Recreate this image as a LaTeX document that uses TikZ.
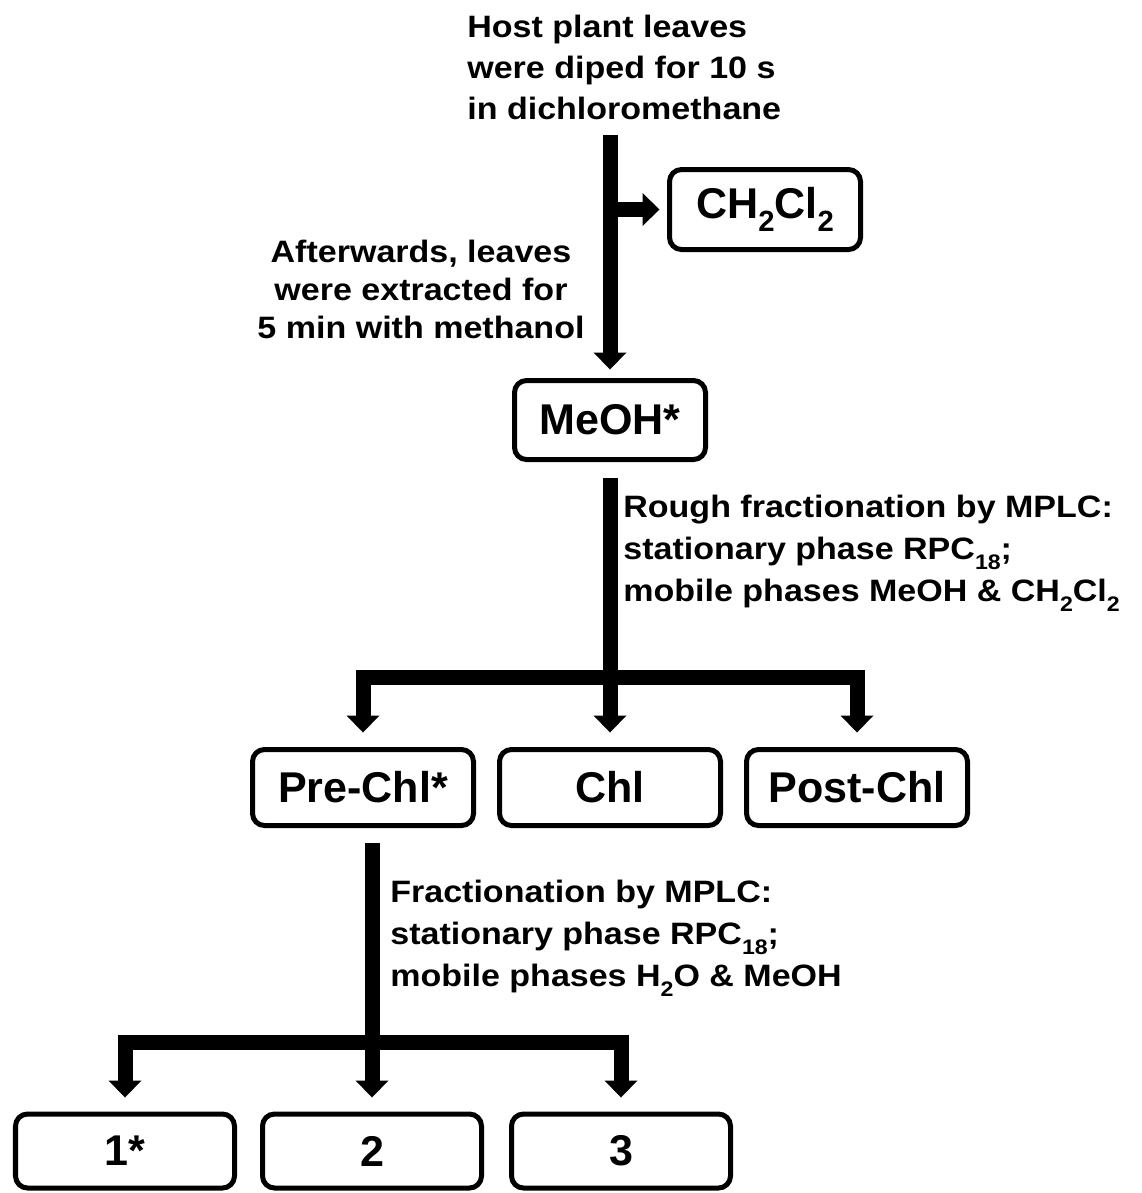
\documentclass[tikz,border=0pt]{standalone}
\usepackage{fontspec}
\setmainfont{Liberation Sans}
\newfontfamily\notefont[FakeStretch=1.1]{Liberation Sans}
\usepackage{tikz}
\usetikzlibrary{arrows.meta, positioning}
\newcommand{\lowsub}[1]{\raisebox{-0.32em}{\scalebox{0.68}{#1}}}
\tikzstyle{fraction} = [rectangle, rounded corners=0.24cm, draw=black, line width=0.1cm, minimum width=4.42cm, minimum height=1.52cm, text centered, inner sep=0pt, font=\fontsize{24.5pt}{24.5pt}\selectfont\bfseries]
\tikzstyle{note} = [inner sep=0pt, font=\notefont\fontsize{17.6pt}{23.9pt}\selectfont\bfseries]
\tikzstyle{arrow} = [line width=0.3cm, ->, >={Triangle[width=0.66cm, length=0.34cm, line width=0pt 0 0]}]

\begin{document}
\begin{tikzpicture}
\useasboundingbox (0,0) rectangle (22.82,-23.86);

% Extraction des feuilles
\coordinate (start) at (12.2,-2.7);
\node (leaves) [note, anchor=north west, align=left, font=\notefont\fontsize{17.6pt}{23.3pt}\selectfont\bfseries] at (9.34,-0.3) {Host plant leaves\\were diped for 10 s\\in dichloromethane};
\node (dcm) [fraction, minimum width=3.82cm, minimum height=1.6cm] at (15.3,-4.19) {CH\lowsub{2}Cl\lowsub{2}};
\node (extract) [note, anchor=north, align=center, font=\notefont\fontsize{17.6pt}{21.6pt}\selectfont\bfseries] at (8.42,-4.8) {Afterwards, leaves\\were extracted for\\5 min with methanol};
\node (meoh) [fraction, minimum width=3.82cm, minimum height=1.58cm] at (12.2,-8.4) {MeOH*};

% Fractionnement grossier
\node (rough) [note, anchor=north west, align=left] at (12.46,-9.9) {Rough fractionation by MPLC:\\stationary phase RPC\lowsub{18};\\mobile phases MeOH \& CH\lowsub{2}Cl\lowsub{2}};
\coordinate (split1) at (12.2,-13.54);
\node (prechl) [fraction] at (7.26,-15.75) {Pre-Chl*};
\node (chl) [fraction] at (12.2,-15.75) {Chl};
\node (postchl) [fraction] at (17.14,-15.75) {Post-Chl};

% Fractionnement fin
\node (fine) [note, anchor=north west, align=left] at (7.8,-17.6) {Fractionation by MPLC:\\stationary phase RPC\lowsub{18};\\mobile phases H\lowsub{2}O \& MeOH};
\coordinate (split2) at (7.44,-20.84);
\node (one) [fraction, minimum width=4.38cm, minimum height=1.48cm] at (2.5,-23.02) {1*};
\node (two) [fraction, minimum width=4.38cm, minimum height=1.48cm] at (7.44,-23.02) {2};
\node (three) [fraction, minimum width=4.38cm, minimum height=1.48cm] at (12.42,-23.02) {3};

% Flèches
\draw [arrow, shorten >=0.17cm] (start) -- (meoh);
\draw [arrow, shorten >=0.15cm] (start |- dcm) -- (dcm);
\draw [arrow, shorten <=0.31cm, shorten >=0.29cm] (meoh) -- (chl);
\draw [arrow, <->, shorten <=0.29cm, shorten >=0.29cm] (prechl.north) |- (split1) -| (postchl.north);
\draw [arrow, shorten <=0.29cm, shorten >=0.28cm] (prechl.south -| two) -- (two);
\draw [arrow, <->, shorten <=0.28cm, shorten >=0.28cm] (one.north) |- (split2) -| (three.north);

\end{tikzpicture}
\end{document}
